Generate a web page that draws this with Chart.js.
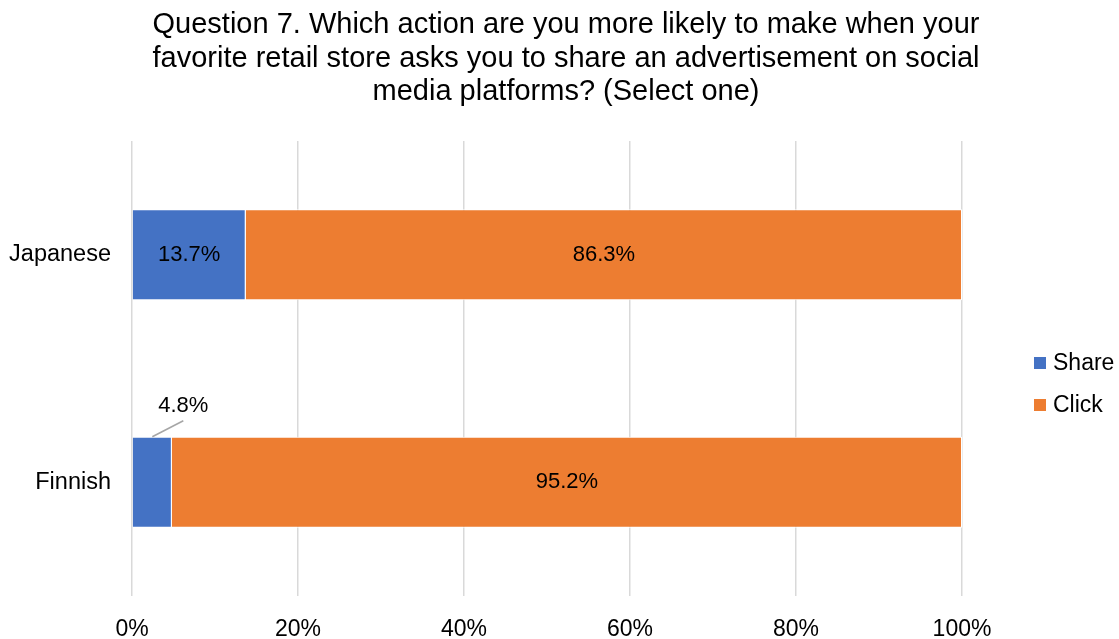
<!DOCTYPE html>
<html>
<head>
<meta charset="utf-8">
<script src="https://cdn.jsdelivr.net/npm/chart.js@4.4.0/dist/chart.umd.min.js"></script>
<style>
  html, body { margin: 0; padding: 0; background: #fff; }
  #wrap { width: 1119px; height: 639px; position: relative; }
</style>
</head>
<body>
<div id="wrap"><canvas id="chart" width="1119" height="639"></canvas></div>
<script>
var titleLines = [
    "Question 7. Which action are you more likely to make when your",
    "favorite retail store asks you to share an advertisement on social",
    "media platforms? (Select one)"
];
var groups = ["Japanese", "Finnish"];
var shareValues = [13.7, 4.8];
var clickValues = [86.3, 95.2];
var seriesNames = ["Share", "Click"];
var seriesColors = ["#4472C4", "#ED7D31"];
var FONT = "'Liberation Sans', Arial, sans-serif";

// titel, legenda en datalabels zelf tekenen
var extrasPlugin = {
    id: "extras",
    afterDatasetsDraw: function (chart) {
        var ctx = chart.ctx;
        ctx.save();
        ctx.fillStyle = "#000";
        ctx.textAlign = "center";
        ctx.textBaseline = "middle";
        ctx.font = "22px " + FONT;
        chart.data.datasets.forEach(function (ds, di) {
            var meta = chart.getDatasetMeta(di);
            meta.data.forEach(function (bar, i) {
                var v = ds.data[i];
                var left = Math.min(bar.x, bar.base);
                var width = Math.abs(bar.x - bar.base);
                var cx = left + width / 2;
                var label = v.toFixed(1) + "%";
                if (width < 60) {
                    // te smal: label erboven met verbindingslijn
                    var top = bar.y - bar.height / 2;
                    ctx.strokeStyle = "#a6a6a6";
                    ctx.lineWidth = 1.5;
                    ctx.beginPath();
                    ctx.moveTo(cx, top);
                    ctx.lineTo(cx + 31, top - 16);
                    ctx.stroke();
                    ctx.fillText(label, cx + 31, top - 31);
                } else {
                    ctx.fillText(label, cx, bar.y);
                }
            });
        });

        ctx.font = "29px " + FONT;
        titleLines.forEach(function (line, i) {
            ctx.fillText(line, 566, 25 + i * 33.5);
        });

        ctx.textAlign = "left";
        ctx.font = "23px " + FONT;
        seriesNames.forEach(function (name, i) {
            var y = 363 + i * 42;
            ctx.fillStyle = seriesColors[i];
            ctx.fillRect(1034, y - 6, 12, 12);
            ctx.fillStyle = "#000";
            ctx.fillText(name, 1053, y + 1);
        });
        ctx.restore();
    }
};

new Chart(document.getElementById("chart"), {
    type: "bar",
    data: {
        labels: groups,
        datasets: [
            { label: seriesNames[0], data: shareValues, backgroundColor: seriesColors[0], borderColor: "#fff", borderWidth: 1 },
            { label: seriesNames[1], data: clickValues, backgroundColor: seriesColors[1], borderColor: "#fff", borderWidth: 1 }
        ]
    },
    options: {
        indexAxis: "y",
        responsive: false,
        animation: false,
        layout: { padding: { top: 141, right: 157, bottom: 0, left: 0 } },
        datasets: { bar: { categoryPercentage: 1, barPercentage: 0.4 } },
        scales: {
            x: {
                stacked: true,
                min: 0,
                max: 100,
                afterFit: function (s) { s.height = 43; },
                grid: { color: "#d9d9d9", lineWidth: 1.5, drawTicks: false },
                border: { display: false },
                ticks: {
                    stepSize: 20,
                    padding: 20,
                    color: "#000",
                    font: { family: FONT, size: 23 }
                    ,
                    callback: function (v) { return v + "%"; }
                }
            },
            y: {
                stacked: true,
                afterFit: function (s) { s.width = 132; },
                grid: { display: false, drawTicks: false },
                border: { display: false },
                ticks: {
                    padding: 21,
                    color: "#000",
                    font: { family: FONT, size: 23.5 }
                }
            }
        },
        plugins: {
            legend: { display: false },
            title: { display: false },
            tooltip: { enabled: false }
        }
    },
    plugins: [extrasPlugin]
});
</script>
</body>
</html>
